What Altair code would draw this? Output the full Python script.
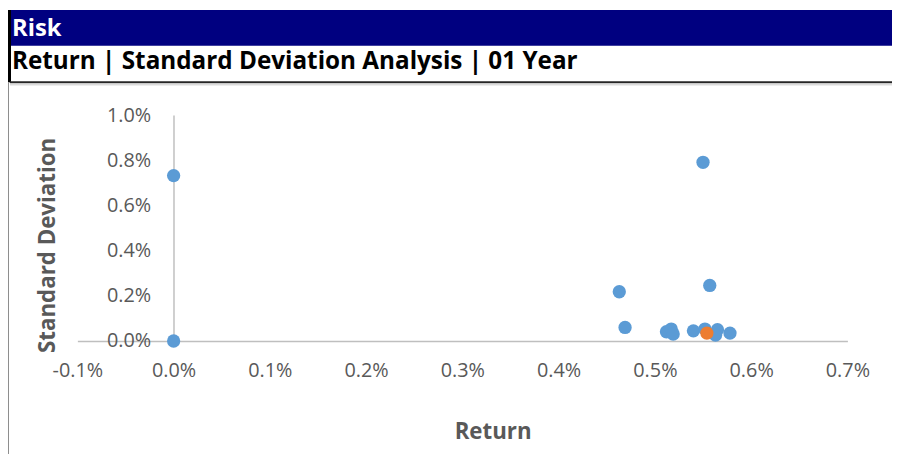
import altair as alt
import pandas as pd

# ---- data ----
returns = [0.00000, 0.00000, 0.00550, 0.00463, 0.00469, 0.00557, 0.00512,
           0.00517, 0.00519, 0.00540, 0.00552, 0.00565, 0.00563, 0.00578, 0.00554]
stdevs = [0.00732, 0.00000, 0.00791, 0.00218, 0.00060, 0.00246, 0.00041,
          0.00053, 0.00031, 0.00045, 0.00053, 0.00050, 0.00026, 0.00035, 0.00035]
groups = ["Peers"] * 14 + ["Selected"]

x_ticks = [-0.001, 0.0, 0.001, 0.002, 0.003, 0.004, 0.005, 0.006, 0.007]
y_ticks = [0.0, 0.002, 0.004, 0.006, 0.008, 0.010]

header_text = "Risk"
title_text = "Return | Standard Deviation Analysis | 01 Year"
x_title = "Return"
y_title = "Standard Deviation"

df = pd.DataFrame({"ret": returns, "sd": stdevs, "grp": groups})

W, H = 777, 228
FONT = "Open Sans"
GRAY = "#595959"
AXIS = "#BFBFBF"

one = alt.Data(values=[{}])

navy = alt.Chart(one).mark_rect(color="#000080").encode(
    x=alt.value(-68), x2=alt.value(822), y=alt.value(-106), y2=alt.value(-70))
black_bar = alt.Chart(one).mark_rect(color="#000000").encode(
    x=alt.value(-70), x2=alt.value(-67), y=alt.value(-106), y2=alt.value(-33))
left_line = alt.Chart(one).mark_rule(color="#8c8c8c", strokeWidth=1).encode(
    x=alt.value(-69.5), y=alt.value(-33), y2=alt.value(342))
sep_dark = alt.Chart(one).mark_rule(color="#262626", strokeWidth=2).encode(
    x=alt.value(-68), x2=alt.value(822), y=alt.value(-33))
sep_light = alt.Chart(one).mark_rule(color="#c8c8c8", strokeWidth=1).encode(
    x=alt.value(-68), x2=alt.value(822), y=alt.value(-30.5))

risk = alt.Chart(one).mark_text(
    text=header_text, font=FONT, fontSize=24, fontWeight="bold", color="white",
    align="left", baseline="alphabetic").encode(x=alt.value(-66), y=alt.value(-80))
title = alt.Chart(one).mark_text(
    text=title_text, font=FONT, fontSize=24.5, fontWeight="bold", color="black",
    align="left", baseline="alphabetic").encode(x=alt.value(-66), y=alt.value(-46))

label_expr = "replace(format(datum.value, '.1%'), '\u2212', '-')"

points = alt.Chart(df).mark_circle(size=180, opacity=1).encode(
    x=alt.X("ret:Q",
            scale=alt.Scale(domain=[x_ticks[0], x_ticks[-1]], nice=False, zero=False),
            axis=alt.Axis(values=x_ticks, labelExpr=label_expr, title=x_title,
                          grid=False, ticks=False, tickSize=0, domainColor=AXIS,
                          domainWidth=1.5, labelFont=FONT, labelFontSize=20,
                          labelColor=GRAY, labelPadding=20, labelFlush=False,
                          titleFont=FONT, titleFontSize=22.5, titleFontWeight="bold",
                          titleColor=GRAY, titleBaseline="middle", titleAlign="center",
                          titleX=419, titleY=91)),
    y=alt.Y("sd:Q",
            scale=alt.Scale(domain=[y_ticks[0], y_ticks[-1]], nice=False, zero=False),
            axis=alt.Axis(values=y_ticks, labelExpr=label_expr, title=y_title,
                          grid=False, ticks=False, tickSize=0, domainColor=AXIS,
                          domainWidth=1.5, offset=-97, labelFont=FONT,
                          labelFontSize=20, labelColor=GRAY, labelPadding=23,
                          labelFlush=False, titleFont=FONT, titleFontSize=22.5,
                          titleFontWeight="bold", titleColor=GRAY, titleAngle=270,
                          titleBaseline="middle", titleAlign="center",
                          titleX=-127, titleY=131)),
    color=alt.Color("grp:N", scale=alt.Scale(domain=["Peers", "Selected"],
                                             range=["#5B9BD5", "#ED7D31"]),
                    legend=None),
)

chart = alt.layer(navy, black_bar, left_line, sep_dark, sep_light, risk, title, points).properties(
    width=W, height=H,
    autosize=alt.AutoSizeParams(type="none"),
    padding={"left": 70, "top": 106, "right": 45, "bottom": 114},
    background="white",
).configure_view(stroke=None)

chart.save("out.html", embed_options={"renderer": "svg", "actions": False})
